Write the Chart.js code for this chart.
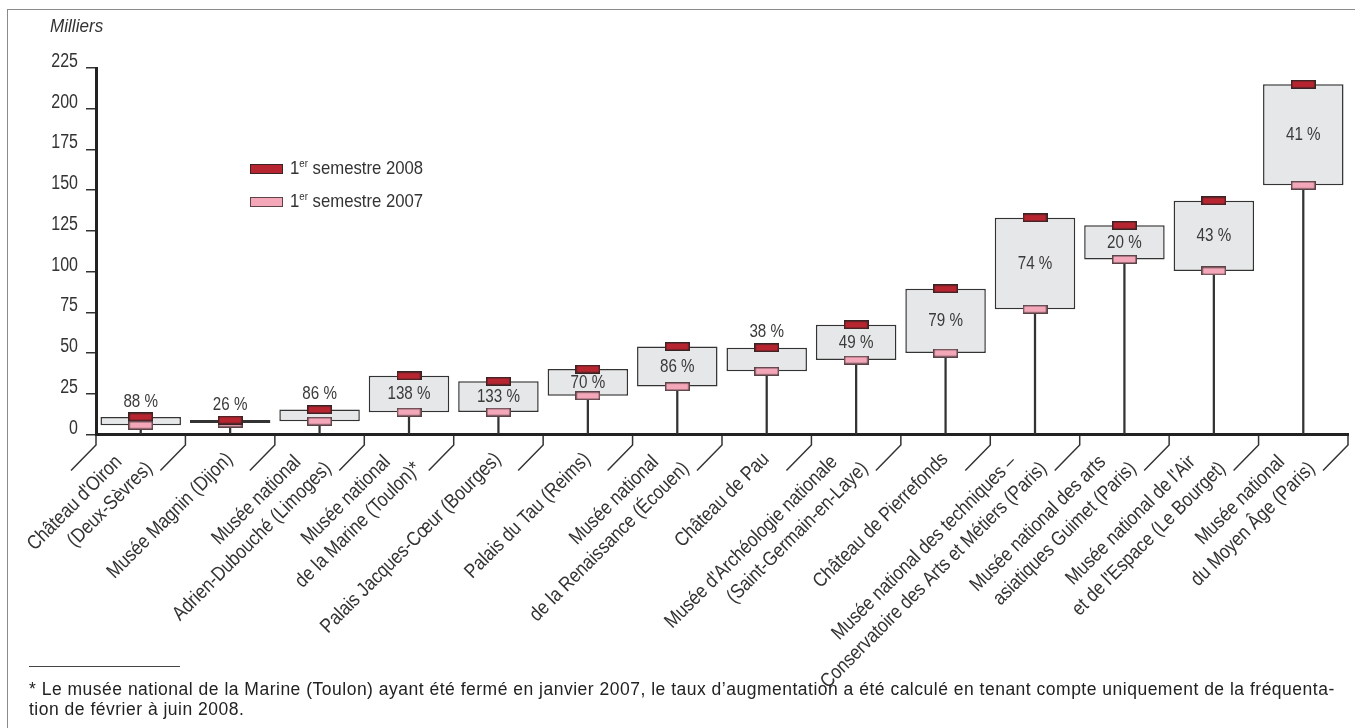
<!DOCTYPE html>
<html lang="fr">
<head>
<meta charset="UTF-8">
<title>Fréquentation des musées nationaux</title>
<script src="https://cdn.jsdelivr.net/npm/chart.js"></script>
<style>
  body { margin: 0; background: #fff; }
  #wrap { position: relative; width: 1355px; height: 728px; overflow: hidden;
          font-family: "Liberation Sans", Arial, sans-serif; color: #333; }
  #frame { position: absolute; left: 7px; top: 9px; width: 1400px; height: 800px;
           border-left: 1.5px solid #8a8a8a; border-top: 1.5px solid #8a8a8a; }
  #chart { position: absolute; left: 0; top: 0; }
  .unit { position: absolute; left: 50px; top: 16px; font-size: 18px; font-style: italic;
          transform: scaleX(0.95); transform-origin: left center; }
  .leg { position: absolute; left: 250px; font-size: 19px; line-height: 20px; white-space: nowrap; }
  .leg i { display: inline-block; width: 31px; height: 8px; border: 1.5px solid #3a2325; vertical-align: middle; margin-right: 7px; }
  .leg span { display: inline-block; transform: scaleX(0.88); transform-origin: left center; }
  .leg sup { font-size: 11px; vertical-align: 7px; line-height: 0; }
  #rule { position: absolute; left: 29px; top: 666px; width: 151px; border-top: 1px solid #444; }
  #note { position: absolute; left: 29px; top: 679px; width: 1326px; white-space: nowrap;
          font-size: 17.5px; letter-spacing: 0.5px; line-height: 20px; color: #222; }
</style>
</head>
<body>
<div id="wrap">
  <div id="frame"></div>
  <canvas id="chart" width="1355" height="728"></canvas>
  <div class="unit">Milliers</div>
  <div class="leg" style="top:158px"><i style="background:#b72530"></i><span>1<sup>er</sup> semestre 2008</span></div>
  <div class="leg" style="top:191px"><i style="background:#f4a7b9;border-color:#5b4347"></i><span>1<sup>er</sup> semestre 2007</span></div>
  <div id="rule"></div>
  <div id="note">* Le musée national de la Marine (Toulon) ayant été fermé en janvier 2007, le taux d’augmentation a été calculé en tenant compte uniquement de la fréquenta-<br>tion de février à juin 2008.</div>
</div>
<script>
// Musées, fréquentation en milliers (1er semestre)
var museums = [
    ["Château d'Oiron", "(Deux-Sèvres)"],
    ["Musée Magnin (Dijon)"],
    ["Musée national", "Adrien-Dubouché (Limoges)"],
    ["Musée national", "de la Marine (Toulon)*"],
    ["Palais Jacques-Cœur (Bourges)"],
    ["Palais du Tau (Reims)"],
    ["Musée national", "de la Renaissance (Écouen)"],
    ["Château de Pau"],
    ["Musée d'Archéologie nationale", "(Saint-Germain-en-Laye)"],
    ["Château de Pierrefonds"],
    ["Musée national des techniques –", "Conservatoire des Arts et Métiers (Paris)"],
    ["Musée national des arts", "asiatiques Guimet (Paris)"],
    ["Musée national de l'Air", "et de l'Espace (Le Bourget)"],
    ["Musée national", "du Moyen Âge (Paris)"]
];
var visits2007 = [5.7, 7.0, 8.2, 13.7, 13.8, 23.8, 29.4, 38.8, 45.7, 50.0, 76.9, 107.5, 100.4, 153.0];
var visits2008 = [10.8, 8.9, 15.3, 36.0, 32.7, 40.2, 54.1, 53.3, 67.4, 89.5, 133.1, 128.4, 143.5, 215.0];
var growth = ['88 %', '26 %', '86 %', '138 %', '133 %', '70 %', '86 %', '38 %', '49 %', '79 %', '74 %', '20 %', '43 %', '41 %'];
var yTicks = [0, 25, 50, 75, 100, 125, 150, 175, 200, 225];

var FONT = '"Liberation Sans", Arial, sans-serif';

function makeMarker(fill, stroke) {
    var c = document.createElement('canvas');
    c.width = 25; c.height = 9;
    var g = c.getContext('2d');
    g.fillStyle = stroke; g.fillRect(0, 0, 25, 9);
    g.fillStyle = fill; g.fillRect(1.5, 1.5, 22, 6);
    return c;
}

// condensed look: squeeze the text horizontally
function narrowText(ctx, text, x, y, sx) {
    ctx.save();
    ctx.translate(x, y);
    ctx.scale(sx, 1);
    ctx.fillText(text, 0, 0);
    ctx.restore();
}

// tick labels, separators, category labels and percentages
var decor = {
    id: 'decor',
    afterDatasetsDraw: function(chart) {
        var ctx = chart.ctx, xs = chart.scales.x, ys = chart.scales.y;
        ctx.save();
        ctx.font = '19px ' + FONT;
        ctx.fillStyle = '#3a3a3a';
        ctx.textAlign = 'center';
        ctx.textBaseline = 'middle';
        growth.forEach(function(t, i) {
            var x = xs.getPixelForValue(i);
            var top = ys.getPixelForValue(visits2008[i]);
            var bot = ys.getPixelForValue(visits2007[i]);
            var y = (visits2008[i] - visits2007[i] >= 15) ? (top + bot) / 2 : top - 15.5;
            narrowText(ctx, t, x, y, 0.8);
        });
        ctx.restore();
    },
    afterDraw: function(chart) {
        var ctx = chart.ctx, xs = chart.scales.x, ys = chart.scales.y;
        var axisY = chart.chartArea.bottom;
        ctx.save();
        // y tick labels
        ctx.font = '20px ' + FONT;
        ctx.fillStyle = '#333';
        ctx.textAlign = 'right';
        ctx.textBaseline = 'alphabetic';
        yTicks.forEach(function(v) {
            narrowText(ctx, String(v), ys.right - 18, ys.getPixelForValue(v) - 1, 0.8);
        });
        // separators under the x axis
        ctx.strokeStyle = '#333';
        ctx.lineWidth = 1.5;
        for (var k = 0; k <= museums.length; k++) {
            var bx = xs.getPixelForValue(k - 0.5);
            ctx.beginPath();
            ctx.moveTo(bx, axisY + 1.5);
            ctx.lineTo(bx, axisY + 10.5);
            ctx.lineTo(bx - 25, axisY + 36);
            ctx.stroke();
        }
        // rotated category labels
        ctx.font = '20px ' + FONT;
        ctx.textAlign = 'right';
        ctx.textBaseline = 'middle';
        museums.forEach(function(lines, i) {
            var bx = xs.getPixelForValue(i + 0.5);
            var n = lines.length;
            ctx.save();
            ctx.translate(bx, axisY + 10.5);
            ctx.rotate(-Math.PI / 4);
            lines.forEach(function(line, j) {
                narrowText(ctx, line, -40 - (n - 1 - j) * 17, -24 + (j - (n - 1) / 2) * 26, 0.86);
            });
            ctx.restore();
        });
        ctx.restore();
    }
};

var ctx = document.getElementById('chart').getContext('2d');
var chart = new Chart(ctx, {
    type: 'bar',
    data: {
        labels: museums,
        datasets: [
            {
                type: 'line',
                label: '1er semestre 2008',
                data: visits2008,
                showLine: false,
                pointStyle: makeMarker('#b72530', '#3a2325'),
                pointRadius: 4,
                pointHoverRadius: 4,
                order: 1
            },
            {
                type: 'line',
                label: '1er semestre 2007',
                data: visits2007,
                showLine: false,
                pointStyle: makeMarker('#f4a7b9', '#5b4347'),
                pointRadius: 4,
                pointHoverRadius: 4,
                order: 2
            },
            {
                label: 'Écart',
                data: visits2007.map(function(v, i) { return [v, visits2008[i]]; }),
                backgroundColor: '#e6e7e8',
                borderColor: '#333',
                borderWidth: 1.5,
                borderSkipped: false,
                categoryPercentage: 0.9,
                barPercentage: 1,
                grouped: false,
                order: 3
            },
            {
                label: 'tige',
                data: visits2007.map(function(v) { return [0, v]; }),
                backgroundColor: '#333',
                barThickness: 1.6,
                grouped: false,
                order: 4
            }
        ]
    },
    options: {
        responsive: false,
        animation: false,
        layout: { padding: { left: 0, top: 68, right: 7, bottom: 293.5 } },
        plugins: {
            legend: { display: false },
            tooltip: { enabled: false }
        },
        scales: {
            x: {
                ticks: { display: false },
                grid: { display: false },
                border: { display: true, color: '#222', width: 3 },
                afterFit: function(s) { s.height = 0; }
            },
            y: {
                min: yTicks[0],
                max: yTicks[yTicks.length - 1],
                ticks: { stepSize: 25, display: false },
                grid: { drawOnChartArea: false, drawTicks: true, tickLength: 10, color: '#333', lineWidth: 1.5 },
                border: { display: true, color: '#222', width: 3 },
                afterFit: function(s) { s.width = 96; }
            }
        }
    },
    plugins: [decor]
});
</script>
</body>
</html>
